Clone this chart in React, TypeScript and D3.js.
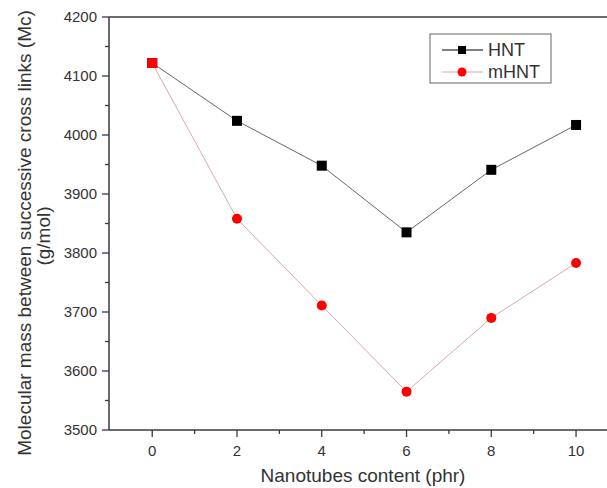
import * as d3 from 'd3';

const W = 607;
const H = 488;
const MARGIN = { top: 17, right: 0, bottom: 58, left: 109 };

export const content = [0, 2, 4, 6, 8, 10];
export const hnt = [4122, 4024, 3948, 3835, 3941, 4017];
export const mhnt = [4122, 3858, 3711, 3565, 3690, 3783];
export const yTicks = [3500, 3600, 3700, 3800, 3900, 4000, 4100, 4200];
export const yMinor = [3550, 3650, 3750, 3850, 3950, 4050, 4150];
export const xMinor = [1, 3, 5, 7, 9];

const FONT = 'Arial, "Liberation Sans", sans-serif';
const AXIS = '#3a3a3a';
const TEXT = '#333';

const App = () => {
    const boundsWidth = W - MARGIN.left - MARGIN.right;
    const boundsHeight = H - MARGIN.top - MARGIN.bottom;

    const xScale = d3.scaleLinear().domain([-1.02, 10.73]).range([0, boundsWidth]);
    const yScale = d3.scaleLinear().domain([3500, 4200]).range([boundsHeight, 0]);

    const line = d3
        .line<number>()
        .x((_, i) => xScale(content[i]))
        .y((d) => yScale(d));

    return (
        <svg width={W} height={H} style={{ position: 'absolute', left: 0, top: 0, background: '#fff' }}>
            <g transform={`translate(${MARGIN.left},${MARGIN.top})`}>
                {/* frame */}
                <line x1={0} x2={boundsWidth} y1={0} y2={0} stroke={AXIS} strokeWidth={1.5} />
                <line x1={0} x2={boundsWidth} y1={boundsHeight} y2={boundsHeight} stroke={AXIS} strokeWidth={1.5} />
                <line x1={0} x2={0} y1={0} y2={boundsHeight} stroke={AXIS} strokeWidth={1.5} />

                {/* y ticks */}
                {yTicks.map((t) => (
                    <g key={t} transform={`translate(0,${yScale(t)})`}>
                        <line x1={-7} x2={0} stroke={AXIS} strokeWidth={1.3} />
                        <text x={-12} dy="0.35em" textAnchor="end" fontSize={15} fontFamily={FONT} fill={TEXT}>
                            {t}
                        </text>
                    </g>
                ))}
                {yMinor.map((t) => (
                    <line key={t} x1={-4} x2={0} y1={yScale(t)} y2={yScale(t)} stroke={AXIS} strokeWidth={1.3} />
                ))}

                {/* x ticks */}
                {content.map((t) => (
                    <g key={t} transform={`translate(${xScale(t)},${boundsHeight})`}>
                        <line y1={0} y2={7} stroke={AXIS} strokeWidth={1.3} />
                        <text y={26} textAnchor="middle" fontSize={15} fontFamily={FONT} fill={TEXT}>
                            {t}
                        </text>
                    </g>
                ))}
                {xMinor.map((t) => (
                    <line key={t} x1={xScale(t)} x2={xScale(t)} y1={boundsHeight} y2={boundsHeight + 4} stroke={AXIS} strokeWidth={1.3} />
                ))}

                {/* series lines */}
                <path d={line(hnt) || ''} fill="none" stroke="#666" strokeWidth={1} />
                <path d={line(mhnt) || ''} fill="none" stroke="#d9a9a9" strokeWidth={1} />

                {/* markers */}
                {hnt.map((v, i) => (
                    <rect key={i} x={xScale(content[i]) - 5} y={yScale(v) - 5} width={10} height={10} fill="#000" />
                ))}
                {mhnt.map((v, i) =>
                    i === 0 ? (
                        <rect key={i} x={xScale(content[i]) - 5} y={yScale(v) - 5} width={10} height={10} fill="#f00" />
                    ) : (
                        <circle key={i} cx={xScale(content[i])} cy={yScale(v)} r={5} fill="#f00" />
                    )
                )}

                {/* legend */}
                <g transform="translate(321,17)">
                    <rect x={0} y={0} width={121} height={49} fill="#fff" stroke="#666" strokeWidth={1} />
                    <line x1={12} x2={53} y1={16} y2={16} stroke="#000" strokeWidth={1} />
                    <rect x={28} y={12} width={8} height={8} fill="#000" />
                    <text x={58} y={16} dy="0.36em" fontSize={18} fontFamily={FONT} fill={TEXT}>HNT</text>
                    <line x1={12} x2={53} y1={38} y2={38} stroke="#d9a9a9" strokeWidth={1} />
                    <circle cx={32} cy={38} r={4.5} fill="#f00" />
                    <text x={58} y={38} dy="0.36em" fontSize={18} fontFamily={FONT} fill={TEXT}>mHNT</text>
                </g>
            </g>

            {/* axis titles */}
            <text x={363} y={482} textAnchor="middle" fontSize={19} fontFamily={FONT} fill={TEXT}>
                Nanotubes content (phr)
            </text>
            <text transform="translate(31,233) rotate(-90)" textAnchor="middle" fontSize={19} fontFamily={FONT} fill={TEXT}>
                Molecular mass between successive cross links (Mc)
            </text>
            <text transform="translate(50,236) rotate(-90)" textAnchor="middle" fontSize={19} fontFamily={FONT} fill={TEXT}>
                (g/mol)
            </text>
        </svg>
    );
};

export default App;
